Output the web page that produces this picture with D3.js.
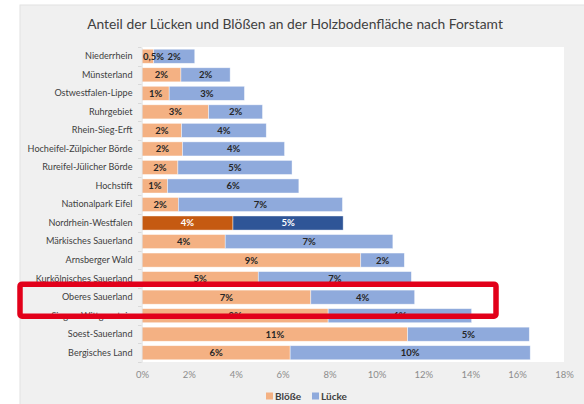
<!DOCTYPE html>
<html><head><meta charset="utf-8">
<script src="https://cdn.jsdelivr.net/npm/d3@7"></script>
<style>
html,body{margin:0;padding:0;background:#fff;}
svg{display:block;}
text{font-family:Lato,"Open Sans",sans-serif;}
</style></head>
<body><svg id="c" width="584" height="404"></svg>
<script>
const title = "Anteil der Lücken und Blößen an der Holzbodenfläche nach Forstamt";
const categories = ["Niederrhein","Münsterland","Ostwestfalen-Lippe","Ruhrgebiet","Rhein-Sieg-Erft","Hocheifel-Zülpicher Börde","Rureifel-Jülicher Börde","Hochstift","Nationalpark Eifel","Nordrhein-Westfalen","Märkisches Sauerland","Arnsberger Wald","Kurkölnisches Sauerland","Oberes Sauerland","Siegen-Wittgenstein","Soest-Sauerland","Bergisches Land"];
const bloesse = [0.5,1.66,1.16,2.84,1.69,1.73,1.53,1.09,1.55,3.88,3.55,9.33,4.96,7.2,7.94,11.33,6.32];
const luecke  = [1.75,2.1,3.21,2.3,3.61,4.35,4.87,5.6,7.0,4.7,7.15,1.86,6.53,4.43,6.12,5.19,10.24];
const seriesNames = ["Blöße","Lücke"];
const xTicks = [0,2,4,6,8,10,12,14,16,18];
const highlightCategory = "Nordrhein-Westfalen";
const boxedCategory = "Oberes Sauerland";

const colors = {Blöße:"#F4B183", Lücke:"#8FAADC"};
const hiColors = {Blöße:"#C55A11", Lücke:"#2F5597"};

const svg = d3.select("#c");
svg.append("rect").attr("x",20).attr("y",5).attr("width",570).attr("height",410).attr("fill","#f0f0f0").attr("stroke","#e2e2e2");

const x = d3.scaleLinear().domain([0,18]).range([142,564]);
const y = d3.scaleBand().domain(categories).range([47,362]).paddingInner(0.24).paddingOuter(0.12);

svg.append("rect").attr("x",141).attr("y",47).attr("width",423).attr("height",315).attr("fill","#fff");

function fit(sel, target, base){
  sel.attr("font-size", base);
  const w = sel.node().getComputedTextLength();
  const s = base*target/w;
  sel.attr("font-size", s);
  return s;
}

const t = svg.append("text").attr("x",295).attr("y",29).attr("text-anchor","middle")
  .attr("fill","#404040").text(title);
fit(t, 416, 15);

const data = categories.map((c,i)=>({cat:c, Blöße:bloesse[i], Lücke:luecke[i]}));
const stack = d3.stack().keys(seriesNames)(data);

const fmt = v => v < 1 ? d3.format(".1f")(v).replace(".",",")+"%" : d3.format(".0f")(v)+"%";

const barsG = svg.append("g");
const labelsG = svg.append("g");
stack.forEach(layer=>{
  const key = layer.key;
  barsG.append("g").selectAll("rect").data(layer).join("rect")
    .attr("x",d=>x(d[0])).attr("width",d=>x(d[1])-x(d[0]))
    .attr("y",d=>y(d.data.cat)).attr("height",y.bandwidth())
    .attr("fill",d=>d.data.cat===highlightCategory?hiColors[key]:colors[key])
    .attr("stroke","#ffffff").attr("stroke-opacity",0.6).attr("stroke-width",0.7);
  labelsG.append("g").selectAll("text").data(layer).join("text")
    .attr("x",d=>(x(d[0])+x(d[1]))/2).attr("y",d=>y(d.data.cat)+y.bandwidth()/2)
    .attr("dy","0.36em").attr("text-anchor","middle")
    .attr("font-size",9.5).attr("font-weight","bold")
    .attr("fill",d=>d.data.cat===highlightCategory?"#ffffff":"#262626")
    .text(d=>fmt(d.data[key]))
    .each(function(){
      const w = this.getComputedTextLength();
      const cx = +this.getAttribute("x");
      if (cx - w/2 < 143) this.setAttribute("x", 143 + w/2);
    });
});

// y axis
const yAxis = d3.axisLeft(y).tickSizeInner(0).tickSizeOuter(0).tickPadding(9);
const ya = svg.append("g").attr("transform","translate(141.5,0)").call(yAxis);
ya.select(".domain").attr("stroke","#d9d9d9");
ya.selectAll("text").attr("fill","#404040").attr("font-family","Lato,sans-serif");
const ref = ya.selectAll("text").filter(d=>d==="Hocheifel-Zülpicher Börde");
const ys = fit(ref, 105, 10);
ya.selectAll("text").attr("font-size", ys);

const bounds = categories.map(c=>y(c)-y.step()*y.paddingInner()/2).concat([362]);
svg.append("g").selectAll("line").data(bounds).join("line")
  .attr("x1",138).attr("x2",141.5).attr("y1",d=>Math.round(d)+0.5).attr("y2",d=>Math.round(d)+0.5)
  .attr("stroke","#d9d9d9");

// x axis labels
const xAxis = d3.axisBottom(x).tickValues(xTicks).tickFormat(d=>d+"%").tickSize(0).tickPadding(0);
const xa = svg.append("g").attr("transform","translate(0,371)").call(xAxis);
xa.select(".domain").remove();
xa.selectAll("text").attr("font-size",9.5).attr("fill","#8c8c8c").attr("font-family","Lato,sans-serif");

// legend
const legend = svg.append("g").attr("transform","translate(266,396)");
const lx = [0,46];
seriesNames.forEach((s,i)=>{
  legend.append("rect").attr("x",lx[i]).attr("y",-3.5).attr("width",7).attr("height",7).attr("fill",colors[s]);
  legend.append("text").attr("x",lx[i]+9).attr("y",0).attr("dy","0.36em")
    .attr("font-size",10).attr("font-weight","bold").attr("fill","#404040").text(s);
});

// highlight box
const cy = y(boxedCategory)+y.bandwidth()/2;
svg.append("rect").attr("x",20).attr("y",cy-13).attr("width",x(15.1)-20).attr("height",32)
  .attr("rx",2).attr("fill","none").attr("stroke","#E2001A").attr("stroke-width",5.5);
</script></body></html>
